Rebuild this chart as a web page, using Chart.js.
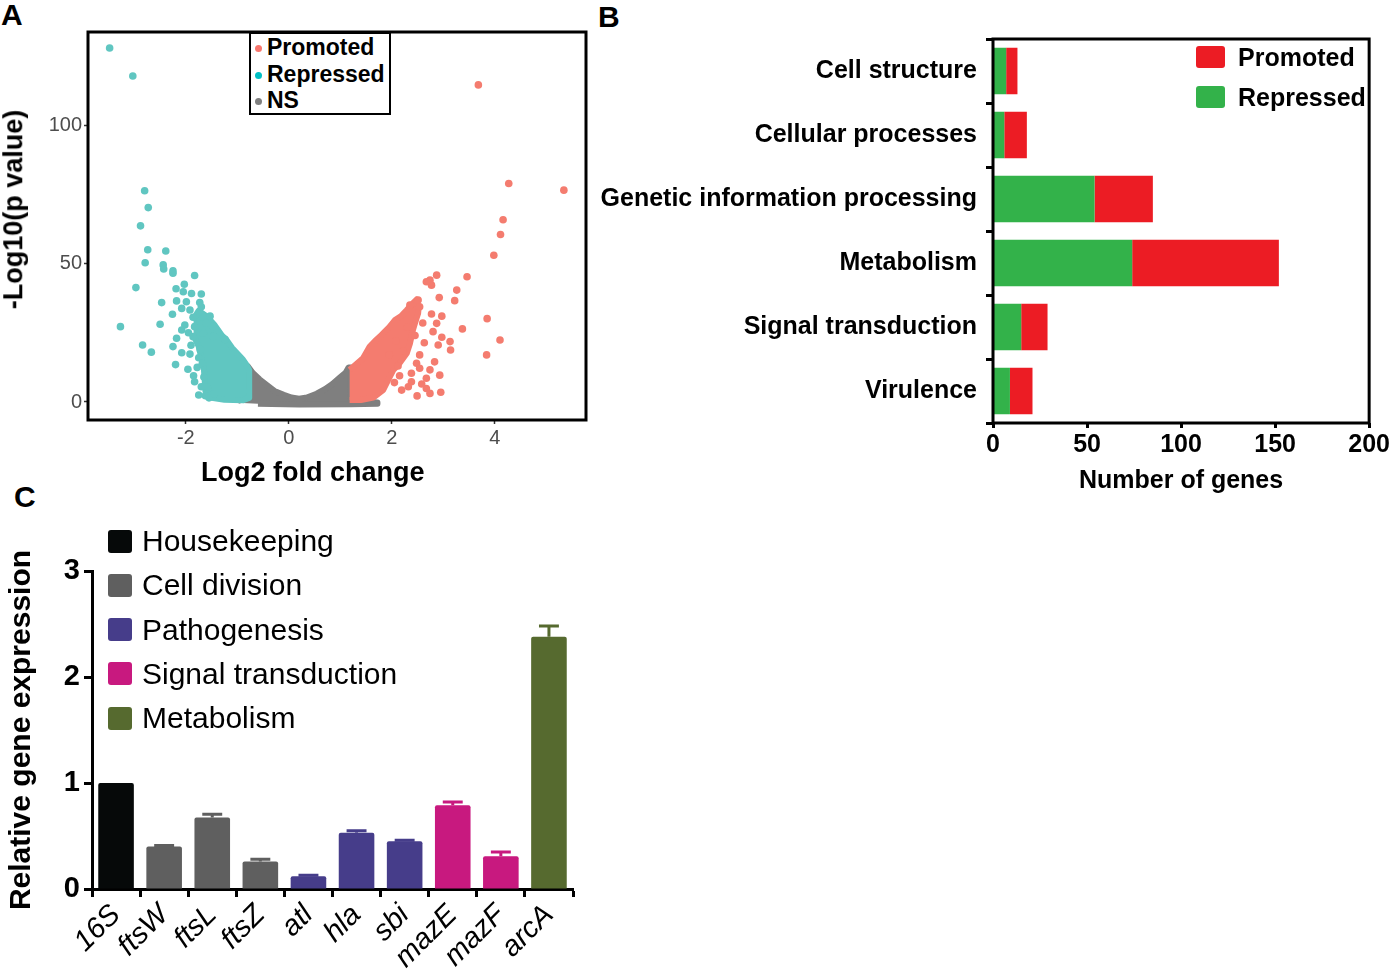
<!DOCTYPE html>
<html>
<head>
<meta charset="utf-8">
<title>Differential expression overview</title>
<script src="https://cdn.jsdelivr.net/npm/chart.js@4.4.1/dist/chart.umd.min.js"></script>
<style>
  body { margin: 0; background: #fff; font-family: "Liberation Sans", Arial, sans-serif; color: #000; }
  #page { position: relative; width: 1392px; height: 978px; overflow: hidden; }
  .box { position: absolute; }
  .letter { position: absolute; font-weight: bold; font-size: 30px; line-height: 30px; }
  .leg { position: absolute; white-space: nowrap; }
  .swatch { position: absolute; border-radius: 3px; }
  .dot { position: absolute; width: 7px; height: 7px; border-radius: 50%; }
  .axtitle { position: absolute; white-space: nowrap; font-weight: bold; font-size: 27px; line-height: 27px; }
  #legA { position: absolute; left: 249px; top: 32px; width: 138px; height: 79px; border: 2px solid #000; background: #fff; }
</style>
</head>
<body>
<div id="page">
  <div class="letter" style="left:1px;top:0px">A</div>
  <div class="letter" style="left:598px;top:2px">B</div>
  <div class="letter" style="left:14px;top:482px">C</div>

  <div class="box" style="left:0;top:0;width:600px;height:490px"><canvas id="volcano"></canvas></div>
  <div class="box" style="left:595px;top:0;width:797px;height:500px"><canvas id="categories"></canvas></div>
  <div class="box" style="left:0;top:490px;width:600px;height:488px"><canvas id="qpcr"></canvas></div>

  <div id="titleAx" class="axtitle"></div>
  <div id="titleAy" class="axtitle"></div>
  <div id="legA"></div>
  <div id="legB"></div>
  <div id="legC"></div>
</div>

<script>
// ---- Panel A: volcano plot ----
const volcanoXTicks = [-2, 0, 2, 4];
const volcanoYTicks = [0, 50, 100];
const volcanoLegend = ["Promoted", "Repressed", "NS"];
const volcanoXTitle = "Log2 fold change";
const volcanoYTitle = "-Log10(p value)";

// single points that stand out of the clouds [log2FC, -log10 p]
const promotedPts = [
  [3.68,114.5],[4.27,78.9],[5.34,76.5],[4.16,65.8],[4.11,60.5],[3.98,53],[3.46,45.2],
  [2.87,45.8],[2.74,44],[2.77,42.2],[2.67,43.4],[3.26,40.4],[3.22,36.6],[2.92,37.7],
  [2.51,36.8],[2.35,35],[2.54,34.4],[2.77,31.8],[2.97,31],[2.87,28.4],[2.80,25.4],
  [3.85,30.1],[3.37,26.4],[4.10,22.4],[3.84,17],[2.97,23.4],[3.13,21.8],[3.14,18.8],
  [2.90,20.6],[2.63,21.4],[2.54,17],[2.48,14],[2.83,14.5],[2.74,11.6],[2.93,9.7],
  [2.67,8.6],[2.38,10.4],[2.54,12.2],[2.12,13],[2.67,4.9],[2.74,3.1],[2.95,3.5],
  [2.49,2.2],[2.32,5.5],[2.19,4.3],[2.38,7.3],[2.22,18.5],[2.08,22],[2.45,24],
  [2.60,28.5],[2.30,27],[2.05,7],[2.15,9.5],[1.95,17],[2.58,6.5]
];
const repressedPts = [
  [-3.48,127.8],[-3.03,117.7],[-2.80,76.3],[-2.73,70.2],[-2.88,63.6],[-2.74,55],
  [-2.39,54.5],[-2.79,50.3],[-2.44,49.5],[-2.43,48],[-2.25,47.4],[-2.25,46.5],
  [-1.83,45.7],[-2.97,41.3],[-2.19,40.9],[-2.03,42.5],[-2.05,39.8],[-1.89,39.2],
  [-1.70,39],[-2.47,35.9],[-2.18,36.5],[-1.99,36.2],[-1.73,35.9],[-2.08,33.8],
  [-1.92,33.2],[-1.70,34.4],[-2.26,31.7],[-1.86,30.6],[-1.66,30.6],[-1.53,31],
  [-3.27,27.2],[-2.50,28.1],[-2.02,27.8],[-1.83,27.2],[-1.60,28.4],[-1.47,27.2],
  [-2.08,26],[-2.18,23],[-2.25,20],[-1.86,23.6],[-1.66,24.8],[-1.47,23.6],
  [-1.24,22.6],[-2.84,20.6],[-2.67,18],[-2.08,17.8],[-1.92,17.3],[-2.20,13.5],
  [-1.96,11.8],[-1.83,7.3],[-1.70,5.5],[-1.62,2.3],[-1.85,9.5],[-1.78,12.5],
  [-1.75,16],[-1.90,20.5],[-1.95,25],[-1.72,19],[-1.68,14],[-1.65,9],[-1.58,5.5],
  [-1.55,1.5],[-1.45,3],[-1.75,2.5]
];
// outlines of the dense clouds
const promotedCloud = [
  [1.18,11.6],[1.30,13.5],[1.44,15.8],[1.57,20],[1.70,22.5],[1.80,24.2],[1.95,27],
  [2.06,29.6],[2.18,31],[2.29,33.2],[2.40,35.5],[2.48,37],[2.52,34],[2.51,32],
  [2.45,28.5],[2.41,26],[2.35,21],[2.29,17.6],[2.15,14],[2.03,11.6],[1.93,8],
  [1.83,4.3],[1.64,1.6],[1.40,0.7],[1.18,0.7]
];
const repressedCloud = [
  [-1.85,30],[-1.75,33],[-1.60,31],[-1.45,28],[-1.30,24],[-1.21,22.4],[-1.10,19.5],
  [-1.00,17.5],[-0.90,15.5],[-0.82,13.4],[-0.77,11.5],[-0.77,1.5],[-0.90,0.6],
  [-1.25,0.8],[-1.50,1.5],[-1.62,4],[-1.65,12],[-1.75,20],[-1.85,24]
];
const nsCloud = [
  [-1.00,-0.3],[-0.95,3],[-0.85,10],[-0.80,13],[-0.70,10.5],[-0.57,8.2],[-0.42,6],
  [-0.28,4],[-0.10,2.6],[0.05,1.6],[0.20,1.2],[0.35,1.6],[0.54,3],[0.70,4.6],
  [0.84,6.4],[0.99,8.8],[1.10,10.5],[1.16,12.5],[1.20,12.5],[1.20,1.0],[1.50,0.2],
  [1.72,-0.2],[1.72,-0.6],[1.20,-0.8],[0.20,-0.9],[-0.60,-0.6]
];

// ---- Panel B: functional categories ----
const funcCategories = ["Cell structure", "Cellular processes", "Genetic information processing",
                        "Metabolism", "Signal transduction", "Virulence"];
const repressedGenes = [7, 6, 54, 74, 15, 9];
const promotedGenes = [6, 12, 31, 78, 14, 12];
const geneCountTicks = [0, 50, 100, 150, 200];

// ---- Panel C: qPCR ----
const genes = ["16S", "ftsW", "ftsL", "ftsZ", "atl", "hla", "sbi", "mazE", "mazF", "arcA"];
const expression = [1.0, 0.40, 0.675, 0.26, 0.12, 0.53, 0.45, 0.79, 0.31, 2.38];
const expressionErr = [0, 0.01, 0.03, 0.02, 0.01, 0.02, 0.01, 0.03, 0.04, 0.10];
const geneGroup = [0, 1, 1, 1, 2, 2, 2, 3, 3, 4];
const groupNames = ["Housekeeping", "Cell division", "Pathogenesis", "Signal transduction", "Metabolism"];
const expressionTicks = [0, 1, 2, 3];

// colours
const cRed = "#f47c6f", cCyan = "#60c6c1", cGrey = "#7f7f7f";
const legDotColors = ["#f8766d", "#00bfc4", "#7f7f7f"];
const bGreen = "#33b24a", bRed = "#ec1c24";
const groupColors = ["#060909", "#5f5f5f", "#463d8a", "#c8197f", "#566a2f"];

const FONT = "'Liberation Sans', Arial, sans-serif";
Chart.defaults.font.family = FONT;
Chart.defaults.animation = false;

const toXY = arr => arr.map(p => ({ x: p[0], y: p[1] }));
const fixTicks = list => scale => { scale.ticks = list.map(v => ({ value: v })); };

// box round the plot area
const framePlugin = {
  id: "frame",
  afterDatasetsDraw(chart, args, opts) {
    if (!opts.show) return;
    const { ctx, chartArea: a } = chart;
    ctx.save();
    ctx.lineWidth = opts.width;
    ctx.strokeStyle = "#000";
    ctx.strokeRect(a.left, a.top, a.right - a.left, a.bottom - a.top);
    ctx.restore();
  }
};

// error bars for the qPCR chart
const errorBars = {
  id: "errorBars",
  afterDatasetsDraw(chart) {
    const ctx = chart.ctx;
    const meta = chart.getDatasetMeta(0);
    const y = chart.scales.y;
    ctx.save();
    ctx.lineWidth = 3;
    meta.data.forEach((bar, i) => {
      const err = expressionErr[i];
      if (!err) return;
      const top = y.getPixelForValue(expression[i] + err);
      const half = bar.width * 0.28;
      ctx.strokeStyle = groupColors[geneGroup[i]];
      ctx.beginPath();
      ctx.moveTo(bar.x, bar.y);
      ctx.lineTo(bar.x, top);
      ctx.moveTo(bar.x - half, top);
      ctx.lineTo(bar.x + half, top);
      ctx.stroke();
    });
    ctx.restore();
  }
};

// Panel A
function cloud(points, color, order) {
  return {
    type: "line", data: toXY(points), showLine: true, fill: "shape",
    backgroundColor: color, borderColor: color, borderWidth: 6,
    borderJoinStyle: "round", pointRadius: 0, tension: 0, order: order
  };
}
function dots(points, color) {
  return {
    type: "scatter", data: toXY(points), backgroundColor: color,
    pointRadius: 3.8, pointBorderWidth: 0, pointHoverRadius: 3.8, order: 1
  };
}

new Chart(document.getElementById("volcano"), {
  type: "scatter",
  data: {
    datasets: [
      cloud(nsCloud, cGrey, 5),
      cloud(repressedCloud, cCyan, 4),
      cloud(promotedCloud, cRed, 4),
      dots(repressedPts, cCyan),
      dots(promotedPts, cRed)
    ]
  },
  options: {
    responsive: true, maintainAspectRatio: false,
    layout: { padding: { top: 32, right: 14, left: 0, bottom: 0 } },
    plugins: { legend: { display: false }, tooltip: { enabled: false }, frame: { show: true, width: 3 } },
    scales: {
      x: {
        type: "linear", min: -3.9, max: 5.77,
        afterBuildTicks: fixTicks(volcanoXTicks),
        afterFit: s => { s.height = 70; },
        grid: { drawOnChartArea: false, tickLength: 4, tickWidth: 1.5, tickColor: "#333" },
        border: { display: false },
        ticks: { color: "#4d4d4d", font: { size: 20 }, padding: 2 }
      },
      y: {
        type: "linear", min: -6.5, max: 133.6,
        afterBuildTicks: fixTicks(volcanoYTicks),
        afterFit: s => { s.width = 88; },
        grid: { drawOnChartArea: false, tickLength: 4, tickWidth: 1.5, tickColor: "#333" },
        border: { display: false },
        ticks: { color: "#4d4d4d", font: { size: 20 }, padding: 2 }
      }
    }
  },
  plugins: [framePlugin]
});

// Panel B
new Chart(document.getElementById("categories"), {
  type: "bar",
  data: {
    labels: funcCategories,
    datasets: [
      { label: "Repressed", data: repressedGenes, backgroundColor: bGreen },
      { label: "Promoted", data: promotedGenes, backgroundColor: bRed }
    ]
  },
  options: {
    indexAxis: "y",
    responsive: true, maintainAspectRatio: false,
    layout: { padding: { top: 39, right: 20, left: 0, bottom: 0 } },
    plugins: { legend: { display: false }, tooltip: { enabled: false }, frame: { show: true, width: 3 } },
    datasets: { bar: { categoryPercentage: 1, barPercentage: 0.73 } },
    scales: {
      x: {
        stacked: true, min: 0, max: 200,
        afterBuildTicks: fixTicks(geneCountTicks),
        afterFit: s => { s.height = 77; },
        grid: { drawOnChartArea: false, tickLength: 5, tickWidth: 3, tickColor: "#000" },
        border: { display: false },
        ticks: { color: "#000", font: { size: 25, weight: "bold" }, padding: 2 },
        title: { display: true, text: "Number of genes", color: "#000",
                 font: { size: 25, weight: "bold", lineHeight: 1 }, padding: { top: 0, bottom: 6 } }
      },
      y: {
        stacked: true,
        afterFit: s => { s.width = 398; },
        grid: { drawOnChartArea: false, tickLength: 7, tickWidth: 3, tickColor: "#000" },
        border: { display: false },
        ticks: { color: "#000", font: { size: 25, weight: "bold" }, padding: 9 }
      }
    }
  },
  plugins: [framePlugin]
});

// Panel C
new Chart(document.getElementById("qpcr"), {
  type: "bar",
  data: {
    labels: genes,
    datasets: [{
      data: expression,
      backgroundColor: geneGroup.map(g => groupColors[g]),
      borderRadius: 2, borderSkipped: "bottom",
      categoryPercentage: 1, barPercentage: 0.74
    }]
  },
  options: {
    responsive: true, maintainAspectRatio: false,
    layout: { padding: { top: 81, right: 27, left: 0, bottom: 0 } },
    plugins: { legend: { display: false }, tooltip: { enabled: false } },
    scales: {
      x: {
        afterFit: s => { s.height = 89; },
        grid: { drawOnChartArea: false, tickLength: 8, tickWidth: 3, tickColor: "#000" },
        border: { display: true, width: 3, color: "#000" },
        ticks: { color: "#000", font: { size: 29, style: "italic" }, padding: 1,
                 autoSkip: false, minRotation: 45, maxRotation: 45 }
      },
      y: {
        min: 0, max: 3,
        afterBuildTicks: fixTicks(expressionTicks),
        afterFit: s => { s.width = 92; },
        grid: { drawOnChartArea: false, tickLength: 8, tickWidth: 3, tickColor: "#000" },
        border: { display: true, width: 3, color: "#000" },
        ticks: { color: "#000", font: { size: 29, weight: "bold" }, padding: 4 },
        title: { display: true, text: "Relative gene expression", color: "#000",
                 font: { size: 30, weight: "bold", lineHeight: 1 }, padding: { top: 7, bottom: 0 } }
      }
    }
  },
  plugins: [errorBars]
});

// axis titles of panel A (placed as in the figure, a little off the plot centre)
const tAx = document.getElementById("titleAx");
tAx.textContent = volcanoXTitle;
tAx.style.left = (313 - tAx.offsetWidth / 2) + "px";
tAx.style.top = (472 - 13.5) + "px";
const tAy = document.getElementById("titleAy");
tAy.textContent = volcanoYTitle;
tAy.style.left = (14 - tAy.offsetWidth / 2) + "px";
tAy.style.top = (209 - 13.5) + "px";
tAy.style.transform = "rotate(-90deg)";

// legends (html)
const legA = document.getElementById("legA");
volcanoLegend.forEach((name, i) => {
  const cy = [13, 40, 66][i];
  legA.innerHTML += `<div class="dot" style="left:4px;top:${cy - 2}px;background:${legDotColors[i]}"></div>` +
    `<div class="leg" style="left:16px;top:${cy - 11.5}px;font-size:23px;line-height:23px;font-weight:bold">${name}</div>`;
});

const legB = document.getElementById("legB");
[["Promoted", bRed], ["Repressed", bGreen]].forEach((item, i) => {
  const cy = 57 + i * 40;
  legB.innerHTML += `<div class="swatch" style="left:1196px;top:${cy - 11}px;width:29px;height:22px;background:${item[1]}"></div>` +
    `<div class="leg" style="left:1238px;top:${cy - 12.5}px;font-size:25px;line-height:25px;font-weight:bold">${item[0]}</div>`;
});

const legC = document.getElementById("legC");
groupNames.forEach((name, i) => {
  const cy = 541 + i * 44.3;
  legC.innerHTML += `<div class="swatch" style="left:108px;top:${cy - 11.5}px;width:24px;height:23px;background:${groupColors[i]}"></div>` +
    `<div class="leg" style="left:142px;top:${cy - 15}px;font-size:30px;line-height:30px">${name}</div>`;
});
</script>
</body>
</html>
